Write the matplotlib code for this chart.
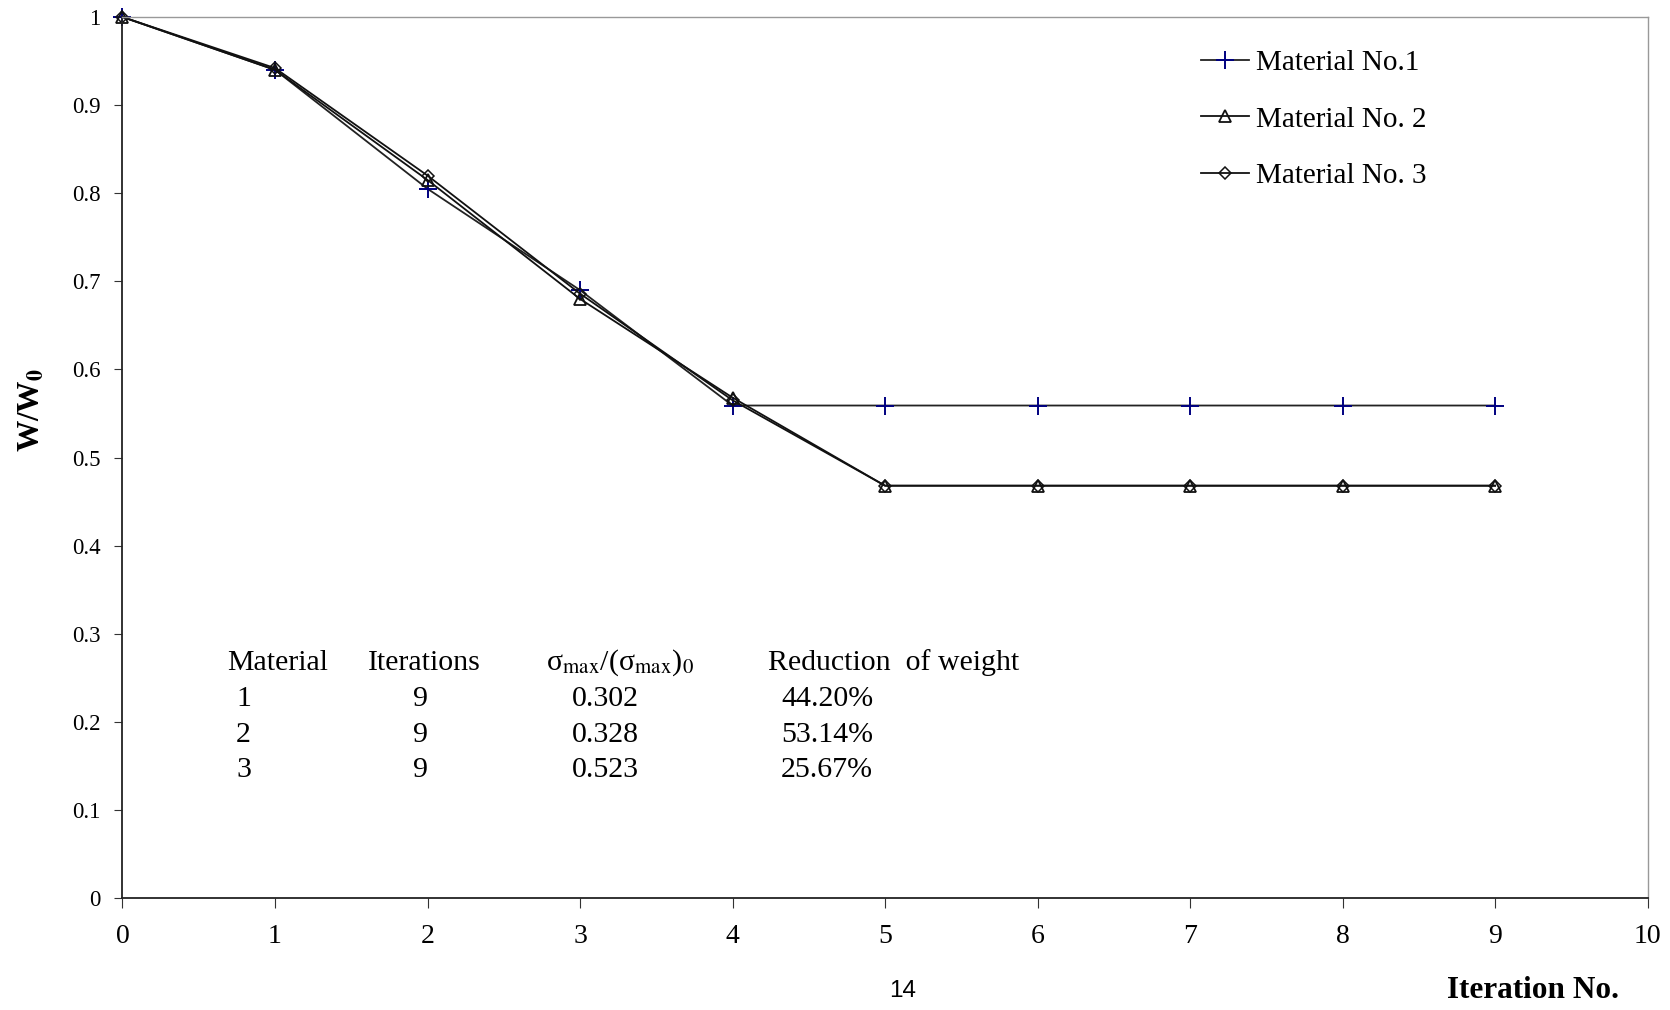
import numpy as np
import matplotlib
matplotlib.use("Agg")
from matplotlib import pyplot as plt
from matplotlib.ticker import FormatStrFormatter

plt.rcParams['font.family'] = ['Liberation Serif', 'DejaVu Serif']
plt.rcParams['mathtext.fontset'] = 'stix'

# data
iterations = [0, 1, 2, 3, 4, 5, 6, 7, 8, 9]
mat1 = [1.0, 0.94, 0.805, 0.69, 0.559, 0.559, 0.559, 0.559, 0.559, 0.559]
mat2 = [1.0, 0.94, 0.815, 0.68, 0.568, 0.468, 0.468, 0.468, 0.468, 0.468]
mat3 = [1.0, 0.942, 0.82, 0.686, 0.565, 0.468, 0.468, 0.468, 0.468, 0.468]
labels = ['Material No.1', 'Material No. 2', 'Material No. 3']

tbl_material = ['1', '2', '3']
tbl_iters = ['9', '9', '9']
tbl_sigma = ['0.302', '0.328', '0.523']
tbl_reduction = ['44.20%', '53.14%', '25.67%']

W, H = 1670, 1010
fig = plt.figure(figsize=(W / 100, H / 100), dpi=100)
ax = fig.add_axes([122.5 / W, 1 - 898 / H, (1647.6 - 122.5) / W, (898 - 17) / H])

ax.plot(iterations, mat1, color='#222222', lw=1.3, marker='+', ms=13,
        mec='#000080', mew=1.4, label=labels[0], clip_on=False)
ax.plot(iterations, mat2, color='#111111', lw=1.3, marker='^', ms=9,
        mfc='none', mec='#111111', mew=1.3, label=labels[1], clip_on=False)
ax.plot(iterations, mat3, color='#111111', lw=1.3, marker='D', ms=6,
        mfc='none', mec='#111111', mew=1.1, label=labels[2], clip_on=False)

ax.set_xlim(0, 10)
ax.set_ylim(0, 1)
ax.set_xticks(range(0, 11))
ax.set_yticks(np.arange(0, 1.01, 0.1))
ax.yaxis.set_major_formatter(FormatStrFormatter('%g'))
ax.tick_params(axis='both', direction='out', color='#333333')
ax.tick_params(axis='y', length=6, pad=10, labelsize=16.5)
ax.tick_params(axis='x', length=7, pad=12, labelsize=20)

for s in ['top', 'right']:
    ax.spines[s].set_color('#999999')
    ax.spines[s].set_linewidth(1.0)
for s in ['bottom', 'left']:
    ax.spines[s].set_color('#222222')
    ax.spines[s].set_linewidth(1.3)

leg = ax.legend(loc='upper left', bbox_to_anchor=(1201 / W, 1 - 50 / H),
                bbox_transform=fig.transFigure, frameon=False, fontsize=21,
                handlelength=1.65, handletextpad=0.25, labelspacing=1.02,
                borderpad=0, borderaxespad=0)

# axis labels
fig.text(32 / W, 1 - 410 / H, r'W/W$_\mathbf{0}$', rotation=90, fontsize=22.5,
         fontweight='bold', ha='center', va='center')
fig.text(1619 / W, 1 - 990 / H, 'Iteration No.', fontsize=22.5,
         fontweight='bold', ha='right', va='center')
fig.text(903 / W, 1 - 991 / H, '14', fontsize=17.5, family='Liberation Sans',
         ha='center', va='center')

# summary table
fs = 21.5
hy = 1 - 663 / H
fig.text(227 / W, hy, 'Material', fontsize=fs, va='center')
fig.text(368 / W, hy, 'Iterations', fontsize=fs, va='center')
fig.text(546 / W, hy, r'σ$_{\rm max}$/(σ$_{\rm max}$)$_0$', fontsize=fs, va='center')
fig.text(768 / W, hy, 'Reduction  of weight', fontsize=fs, va='center')
rows_y = [699, 735, 770]
for i, ry in enumerate(rows_y):
    y = 1 - ry / H
    fig.text(236 / W, y, tbl_material[i], fontsize=fs, va='center')
    fig.text(421 / W, y, tbl_iters[i], fontsize=fs, va='center', ha='center')
    fig.text(572 / W, y, tbl_sigma[i], fontsize=fs, va='center')
    fig.text(781 / W, y, tbl_reduction[i], fontsize=fs, va='center')

fig.savefig('out.png', dpi=100)
